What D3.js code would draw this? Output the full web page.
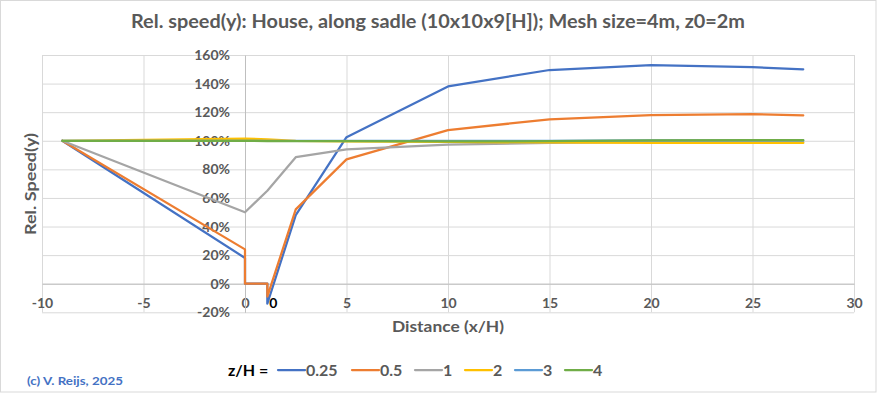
<!DOCTYPE html>
<html>
<head>
<meta charset="utf-8">
<script src="https://cdn.jsdelivr.net/npm/d3@7/dist/d3.min.js"></script>
<style>
  html, body { margin: 0; padding: 0; background: #fff; }
  svg { display: block; font-family: Lato, "Open Sans", sans-serif; }
</style>
</head>
<body>
<svg id="chart" width="877" height="393"></svg>
<script>
// ---------- data ----------
const titleText = "Rel. speed(y): House, along sadle (10x10x9[H]); Mesh size=4m, z0=2m";
const xTitle = "Distance (x/H)";
const yTitle = "Rel. Speed(y)";
const credit = "(c) V. Reijs, 2025";
const legendTitle = "z/H =";

const seriesNames = ["0.25", "0.5", "1", "2", "3", "4"];
const seriesColors = ["#4472C4", "#ED7D31", "#A5A5A5", "#FFC000", "#5B9BD5", "#70AD47"];

// x positions (x/H)
const xInside = [-9, 0, 0, 1.1, 1.1, 2.5, 5, 10, 15, 20, 25, 27.5];
const xOutside = [-9, 0, 1.1, 2.5, 5, 10, 15, 20, 25, 27.5];

const s025 = [1.00, 0.18, 0, 0, -0.14, 0.48, 1.025, 1.38, 1.495, 1.53, 1.515, 1.50];
const s05  = [1.00, 0.24, 0, 0, -0.09, 0.52, 0.87, 1.075, 1.15, 1.18, 1.186, 1.177];
const s1   = [1.00, 0.50, 0.65, 0.885, 0.94, 0.973, 0.985, 0.99, 0.99, 0.99];
const s2   = [1.00, 1.015, 1.01, 1.00, 0.996, 0.992, 0.988, 0.985, 0.985, 0.985];
const s3   = [1.00, 1.00, 1.00, 1.00, 1.00, 1.00, 1.00, 1.002, 1.002, 1.002];
const s4   = [1.00, 1.00, 0.998, 0.998, 0.997, 0.995, 0.997, 1.003, 1.004, 1.004];

const seriesX = [xInside, xInside, xOutside, xOutside, xOutside, xOutside];
const seriesY = [s025, s05, s1, s2, s3, s4];

const xTicks = [-10, -5, 0, 5, 10, 15, 20, 25, 30];
const yTicks = [-0.2, 0, 0.2, 0.4, 0.6, 0.8, 1.0, 1.2, 1.4, 1.6];
const extraLabel = { x: 1.4, text: "0" };

// ---------- drawing ----------
const svg = d3.select("#chart");
const W = 877, H = 393;
const gray = "#595959";

svg.append("rect").attr("x", 0.5).attr("y", 0.5).attr("width", W - 1.5).attr("height", H - 1.5)
  .attr("fill", "#fff").attr("stroke", "#d9d9d9").attr("stroke-width", 1);

const x = d3.scaleLinear().domain([-10, 30]).range([42, 854]);
const y = d3.scaleLinear().domain([-0.2, 1.6]).range([312.3, 55]);

// gridlines
const gx = svg.append("g").attr("transform", `translate(0,${y(-0.2)})`)
  .call(d3.axisBottom(x).tickValues(xTicks).tickSize(-(y(-0.2) - y(1.6))).tickFormat(""));
gx.select(".domain").remove();
gx.selectAll("line").attr("stroke", "#d9d9d9").attr("stroke-width", 1);

const gy = svg.append("g").attr("transform", `translate(${x(-10)},0)`)
  .call(d3.axisLeft(y).tickValues(yTicks).tickSize(-(x(30) - x(-10))).tickFormat(""));
gy.select(".domain").remove();
gy.selectAll("line").attr("stroke", "#d9d9d9").attr("stroke-width", 1);

// axes crossing at 0
const ax = svg.append("g").attr("transform", `translate(0,${y(0)})`)
  .call(d3.axisBottom(x).tickValues(xTicks).tickSize(0).tickPadding(14).tickFormat(d => String(d)));
ax.select(".domain").attr("stroke", "#bfbfbf").attr("stroke-width", 1);
ax.selectAll("text").attr("fill", gray).attr("font-size", 14).attr("font-weight", "bold")
  .attr("font-family", "Lato, sans-serif");

const ay = svg.append("g").attr("transform", `translate(${x(0)},0)`)
  .call(d3.axisLeft(y).tickValues(yTicks).tickSize(0).tickPadding(15)
    .tickFormat(d => Math.round(d * 100) + "%"));
ay.select(".domain").attr("stroke", "#bfbfbf").attr("stroke-width", 1);
ay.selectAll("text").attr("fill", gray).attr("font-size", 14).attr("font-weight", "bold")
  .attr("font-family", "Lato, sans-serif");

// series lines
const line = d3.line().x(d => x(d[0])).y(d => y(d[1]));
seriesY.forEach((vals, i) => {
  const pts = vals.map((v, j) => [seriesX[i][j], v]);
  svg.append("path").datum(pts)
    .attr("d", line)
    .attr("fill", "none")
    .attr("stroke", seriesColors[i])
    .attr("stroke-width", 2.25)
    .attr("stroke-linejoin", "round")
    .attr("stroke-linecap", "round");
});

// extra bold "0" label
svg.append("text").attr("x", x(extraLabel.x)).attr("y", y(0) + 14).attr("dy", "0.71em")
  .attr("text-anchor", "middle").attr("font-size", 14).attr("font-weight", "bold")
  .attr("fill", "#000").text(extraLabel.text);

// title
svg.append("text").attr("x", 438).attr("y", 28).attr("text-anchor", "middle")
  .attr("font-size", 18).attr("font-weight", "bold").attr("fill", gray)
  .attr("textLength", 614).attr("lengthAdjust", "spacingAndGlyphs")
  .text(titleText);

// axis titles
svg.append("text").attr("x", 448).attr("y", 332).attr("text-anchor", "middle")
  .attr("font-size", 16).attr("font-weight", "bold").attr("fill", gray)
  .attr("textLength", 112).attr("lengthAdjust", "spacingAndGlyphs")
  .text(xTitle);

svg.append("text").attr("transform", "translate(36,184) rotate(-90)").attr("text-anchor", "middle")
  .attr("font-size", 16).attr("font-weight", "bold").attr("fill", gray)
  .attr("textLength", 102).attr("lengthAdjust", "spacingAndGlyphs")
  .text(yTitle);

// credit
svg.append("text").attr("x", 27).attr("y", 385).attr("font-size", 12).attr("font-weight", "bold")
  .attr("fill", "#4472C4").attr("textLength", 96).attr("lengthAdjust", "spacingAndGlyphs")
  .text(credit);

// legend
const lg = svg.append("g").attr("transform", "translate(0,370)");
lg.append("text").attr("x", 228).attr("y", 0).attr("dy", "0.36em").attr("font-size", 16)
  .attr("font-weight", "bold").attr("fill", "#000").text(legendTitle);
const legendX = [278, 352, 415, 465, 515, 565];
seriesNames.forEach((n, i) => {
  lg.append("line").attr("x1", legendX[i]).attr("x2", legendX[i] + 27).attr("y1", 0).attr("y2", 0)
    .attr("stroke", seriesColors[i]).attr("stroke-width", 2.25).attr("stroke-linecap", "round");
  lg.append("text").attr("x", legendX[i] + 28).attr("y", 0).attr("dy", "0.36em")
    .attr("font-size", 16).attr("font-weight", "bold").attr("fill", gray).text(n);
});
</script>
</body>
</html>
